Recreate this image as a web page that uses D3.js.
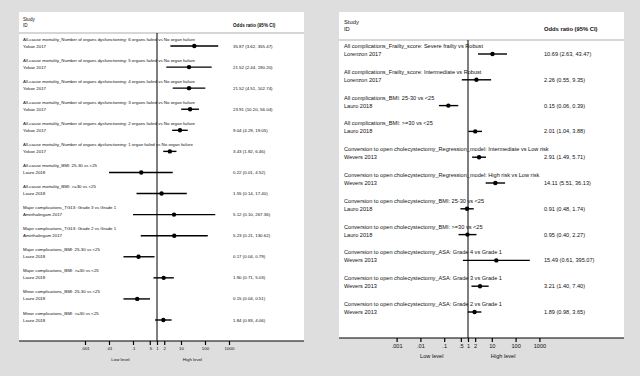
<!DOCTYPE html>
<html>
<head>
<meta charset="utf-8">
<script src="https://cdn.jsdelivr.net/npm/d3@7"></script>
<style>
  body { margin: 0; background: #dedede; }
  svg { display: block; font-family: "Liberation Sans", Arial, sans-serif; }
</style>
</head>
<body>
<div id="container"></div>
<script>
let w = 640;
let h = 376;

// DATA - left panel
let leftOutcomes = [
  "All-cause mortality_Number of organs dysfunctioning: 6 organs failed vs No organ failure",
  "All-cause mortality_Number of organs dysfunctioning: 5 organs failed vs No organ failure",
  "All-cause mortality_Number of organs dysfunctioning: 4 organs failed vs No organ failure",
  "All-cause mortality_Number of organs dysfunctioning: 3 organs failed vs No organ failure",
  "All-cause mortality_Number of organs dysfunctioning: 2 organs failed vs No organ failure",
  "All-cause mortality_Number of organs dysfunctioning: 1 organ failed vs No organ failure",
  "All-cause mortality_BMI: 25-30 vs <25",
  "All-cause mortality_BMI: >=30 vs <25",
  "Major complications_TG13: Grade 3 vs Grade 1",
  "Major complications_TG13: Grade 2 vs Grade 1",
  "Major complications_BMI: 25-30 vs <25",
  "Major complications_BMI: >=30 vs <25",
  "Minor complications_BMI: 25-30 vs <25",
  "Minor complications_BMI: >=30 vs <25"
];
let leftStudies = ["Yokoe 2017","Yokoe 2017","Yokoe 2017","Yokoe 2017","Yokoe 2017","Yokoe 2017",
  "Lauro 2018","Lauro 2018","Amirthalingam 2017","Amirthalingam 2017",
  "Lauro 2018","Lauro 2018","Lauro 2018","Lauro 2018"];
let leftOR = [35.87, 21.52, 21.52, 23.91, 9.04, 3.43, 0.22, 1.55, 5.12, 5.23, 0.17, 1.90, 0.15, 1.84];
let leftLo = [3.62, 2.44, 4.51, 10.20, 4.29, 1.82, 0.01, 0.14, 0.10, 0.21, 0.04, 0.71, 0.04, 0.83];
let leftHi = [355.47, 190.20, 102.74, 56.04, 19.05, 6.46, 4.52, 17.40, 267.36, 130.62, 0.79, 5.03, 0.51, 4.06];

// DATA - right panel
let rightOutcomes = [
  "All complications_Frailty_score: Severe frailty vs Robust",
  "All complications_Frailty_score: Intermediate vs Robust",
  "All complications_BMI: 25-30 vs <25",
  "All complications_BMI: >=30 vs <25",
  "Conversion to open cholecystectomy_Regression_model: Intermediate vs Low risk",
  "Conversion to open cholecystectomy_Regression_model: High risk vs Low risk",
  "Conversion to open cholecystectomy_BMI: 25-30 vs <25",
  "Conversion to open cholecystectomy_BMI: >=30 vs <25",
  "Conversion to open cholecystectomy_ASA: Grade 4 vs Grade 1",
  "Conversion to open cholecystectomy_ASA: Grade 3 vs Grade 1",
  "Conversion to open cholecystectomy_ASA: Grade 2 vs Grade 1"
];
let rightStudies = ["Lorenzon 2017","Lorenzon 2017","Lauro 2018","Lauro 2018","Wevers 2013","Wevers 2013",
  "Lauro 2018","Lauro 2018","Wevers 2013","Wevers 2013","Wevers 2013"];
let rightOR = [10.69, 2.26, 0.15, 2.01, 2.91, 14.11, 0.91, 0.95, 15.49, 3.21, 1.89];
let rightLo = [2.63, 0.55, 0.06, 1.04, 1.49, 5.51, 0.48, 0.40, 0.61, 1.40, 0.98];
let rightHi = [43.47, 9.35, 0.39, 3.88, 5.71, 36.13, 1.74, 2.27, 395.07, 7.40, 3.65];

// AXIS
let tickValues = [0.001, 0.01, 0.1, 0.5, 1, 2, 10, 100, 1000];
let tickLabels = [".001", ".01", ".1", ".5", "1", "2", "10", "100", "1000"];

let viz = d3.select("#container").append("svg")
    .attr("width", w)
    .attr("height", h)
    .style("background-color", "#dedede");

function fmt(v) { return v.toFixed(2); }

function drawPanel(p, outcomes, studies, or, lo, hi) {
  let g = viz.append("g");
  let rows = outcomes.map(function(d, i) {
    return { outcome: d, study: studies[i], or: or[i], lo: lo[i], hi: hi[i] };
  });

  g.append("rect")
    .attr("x", p.x0).attr("y", p.y0)
    .attr("width", p.x1 - p.x0).attr("height", p.axisY - p.y0)
    .attr("fill", "white");

  let xScale = d3.scaleLog().domain([0.001, 1000]).range([p.nullX - 3 * p.dec, p.nullX + 3 * p.dec]);
  let yScale = d3.scaleLinear().domain([0, rows.length - 1]).range([p.firstRow, p.lastRow]);

  // header
  g.append("text").attr("x", p.textX).attr("y", p.studyY).attr("dy", "0.35em")
    .attr("font-size", p.hfs).attr("fill", "#111").text("Study");
  g.append("text").attr("x", p.textX).attr("y", p.idY).attr("dy", "0.35em")
    .attr("font-size", p.hfs).attr("fill", "#111").text("ID");
  g.append("text").attr("x", p.orX).attr("y", p.idY).attr("dy", "0.35em")
    .attr("font-size", p.hfs).attr("font-weight", "bold").attr("fill", "#111").text("Odds ratio (95% CI)");
  g.append("line")
    .attr("x1", p.x0).attr("x2", p.x1).attr("y1", p.headY).attr("y2", p.headY)
    .attr("stroke", "#c8c8c8").attr("stroke-width", 1.3);

  // null line
  g.append("line")
    .attr("x1", xScale(1)).attr("x2", xScale(1))
    .attr("y1", p.headY).attr("y2", p.axisY)
    .attr("stroke", "black").attr("stroke-width", 1);

  let row = g.selectAll(".row").data(rows).enter().append("g").attr("class", "row");

  row.append("text")
    .attr("x", p.textX)
    .attr("y", function(d, i) { return yScale(i) - p.gap; })
    .attr("dy", "0.35em")
    .attr("font-size", p.fs).attr("fill", "#111")
    .text(function(d) { return d.outcome; });
  row.append("text")
    .attr("x", p.textX)
    .attr("y", function(d, i) { return yScale(i); })
    .attr("dy", "0.35em")
    .attr("font-size", p.fs).attr("fill", "#111")
    .text(function(d) { return d.study; });
  row.append("text")
    .attr("x", p.orX)
    .attr("y", function(d, i) { return yScale(i); })
    .attr("dy", "0.35em")
    .attr("font-size", p.fs).attr("fill", "#111")
    .text(function(d) { return fmt(d.or) + " (" + fmt(d.lo) + ", " + fmt(d.hi) + ")"; });

  row.append("line")
    .attr("x1", function(d) { return xScale(d.lo); })
    .attr("x2", function(d) { return xScale(d.hi); })
    .attr("y1", function(d, i) { return yScale(i); })
    .attr("y2", function(d, i) { return yScale(i); })
    .attr("stroke", "black").attr("stroke-width", 1.4);
  row.append("circle")
    .attr("cx", function(d) { return xScale(d.or); })
    .attr("cy", function(d, i) { return yScale(i); })
    .attr("r", 2.2)
    .attr("fill", "black");

  // x axis
  g.append("line")
    .attr("x1", p.x0).attr("x2", p.x1).attr("y1", p.axisY).attr("y2", p.axisY)
    .attr("stroke", "black").attr("stroke-width", 1.2);
  let xAxis = d3.axisBottom(xScale)
    .tickValues(tickValues)
    .tickSize(4)
    .tickFormat(function(d, i) { return tickLabels[i]; });
  let ax = g.append("g").attr("transform", "translate(0," + p.axisY + ")").call(xAxis);
  ax.select(".domain").remove();
  ax.selectAll(".tick line").attr("stroke-width", 1.2);
  ax.selectAll(".tick text").attr("font-size", p.fs).attr("fill", "#111")
    .attr("font-family", "Liberation Sans, Arial, sans-serif")
    .attr("y", 6);

  g.append("text").attr("x", xScale(0.03)).attr("y", p.axisY + 20)
    .attr("text-anchor", "middle").attr("font-size", p.fs).attr("fill", "#111").text("Low level");
  g.append("text").attr("x", xScale(30)).attr("y", p.axisY + 20)
    .attr("text-anchor", "middle").attr("font-size", p.fs).attr("fill", "#111").text("High level");
}

drawPanel({ x0: 19, x1: 304, y0: 12, axisY: 341, nullX: 157, dec: 24,
  textX: 23, orX: 233, studyY: 19, idY: 25, headY: 33,
  firstRow: 46, lastRow: 320, gap: 7, fs: 4.4, hfs: 4.6 },
  leftOutcomes, leftStudies, leftOR, leftLo, leftHi);

drawPanel({ x0: 339, x1: 624, y0: 12, axisY: 338, nullX: 468, dec: 23.8,
  textX: 344, orX: 544, studyY: 22, idY: 29, headY: 40,
  firstRow: 54, lastRow: 312, gap: 8, fs: 5.6, hfs: 5.8 },
  rightOutcomes, rightStudies, rightOR, rightLo, rightHi);
</script>
</body>
</html>
